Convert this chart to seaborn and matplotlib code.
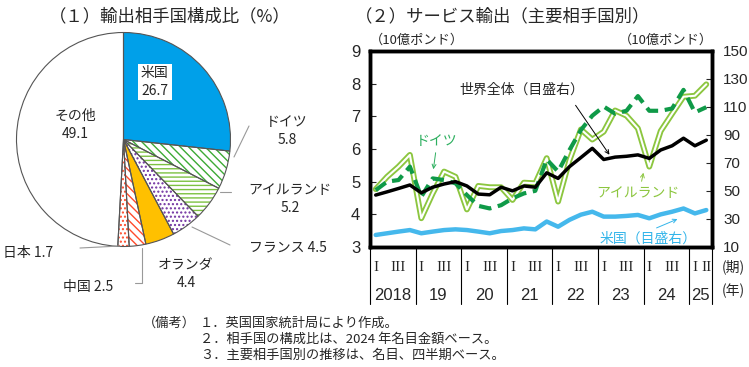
import matplotlib
matplotlib.use('Agg')
import pandas as pd
import matplotlib.pyplot as plt
import seaborn as sns
from matplotlib.lines import Line2D
from matplotlib.patches import FancyArrowPatch

# (1) export partner shares, 2024 (%)
pie_labels = ['米国', 'ドイツ', 'アイルランド', 'フランス', 'オランダ', '中国', '日本', 'その他']
pie_values = [26.7, 5.8, 5.2, 4.5, 4.4, 2.5, 1.7, 49.1]

# (2) quarterly service exports, 2018 Q1 - 2025 Q2
quarters = list(range(30))
germany = [4.74, 5.00, 5.05, 5.46, 4.54, 5.10, 5.05, 4.95, 4.59, 4.26,
           4.18, 4.28, 4.49, 4.64, 4.72, 5.68, 5.31, 5.97, 6.58, 7.02,
           7.30, 7.08, 7.17, 7.62, 7.17, 7.17, 7.24, 7.81, 7.12, 7.28]
ireland = [4.77, 5.15, 5.46, 5.82, 3.88, 4.64, 5.31, 5.15, 4.15, 4.87,
           4.83, 4.83, 4.44, 4.97, 4.95, 5.72, 4.39, 5.66, 6.60, 6.29,
           6.53, 7.18, 7.02, 6.63, 5.46, 6.55, 7.08, 7.60, 7.63, 7.98]
world = [47.1, 49.4, 51.8, 54.3, 48.7, 52.7, 55.0, 56.7, 53.6, 47.8,
         47.3, 52.7, 50.1, 53.6, 52.7, 63.0, 59.0, 67.4, 73.9, 80.5,
         72.5, 74.2, 74.8, 75.8, 73.3, 79.3, 82.3, 87.7, 82.3, 86.3]
usa = [18.6, 19.8, 21.0, 22.1, 19.8, 21.0, 22.1, 22.6, 22.1, 21.0,
       19.8, 21.4, 22.1, 23.3, 22.6, 28.2, 24.5, 29.4, 33.1, 35.2,
       31.7, 31.7, 32.2, 32.9, 30.5, 33.3, 35.2, 37.5, 34.0, 36.4]
years = ['2018', '19', '20', '21', '22', '23', '24', '25']

sns.set_theme(style='white')
plt.rcParams['font.family'] = ['Noto Sans CJK JP', 'DejaVu Sans']
plt.rcParams['hatch.linewidth'] = 1.0

W, H = 749, 367
fig = plt.figure(figsize=(W / 100, H / 100), dpi=100)
fig.patch.set_facecolor('white')


def fp(x, y):
    # pixel position -> figure fraction
    return x / W, 1 - y / H


narrow = ['Liberation Sans Narrow', 'Liberation Sans', 'DejaVu Sans']

# ---------------- pie ----------------
axp = fig.add_axes([16.5 / W, 1 - 246.5 / H, 214 / W, 214 / H])
face = ['#00A0E9', 'white', 'white', 'white', '#FFC000', 'white', 'white', 'white']
hatch = [None, '\\\\\\\\', '----', '....', None, '\\\\\\\\', '....', None]
hcol = ['#00A0E9', '#3DAA35', '#7DC242', '#7030A0', '#FFC000', '#FF4B2B', '#FF4B2B', 'white']
wedges, _ = axp.pie(pie_values, startangle=90, counterclock=False, colors=face,
                    wedgeprops=dict(linewidth=0))
for w, h, c in zip(wedges, hatch, hcol):
    w.set_edgecolor(c)
    if h:
        w.set_hatch(h)
axp.pie(pie_values, startangle=90, counterclock=False,
        wedgeprops=dict(facecolor='none', edgecolor='#555555', linewidth=0.8))
axp.set_xlim(-1, 1)
axp.set_ylim(-1, 1)
axp.set_aspect('equal')
axp.axis('off')

fig.text(*fp(170, 16), '（１）輸出相手国構成比（%）', ha='center', va='center', fontsize=12.5)
fig.text(*fp(141, 82), '米国\n26.7', ha='left', va='center', fontsize=10, linespacing=1.3,
         bbox=dict(facecolor='white', edgecolor='none', pad=2))
fig.text(*fp(75, 125), 'その他\n49.1', ha='center', va='center', fontsize=10, linespacing=1.3)
fig.text(*fp(287, 131), 'ドイツ\n5.8', ha='center', va='center', fontsize=10, linespacing=1.4)
fig.text(*fp(290, 199), 'アイルランド\n5.2', ha='center', va='center', fontsize=10, linespacing=1.4)
fig.text(*fp(288, 247), 'フランス 4.5', ha='center', va='center', fontsize=10)
fig.text(*fp(186, 274), 'オランダ\n4.4', ha='center', va='center', fontsize=10, linespacing=1.4)
fig.text(*fp(88, 287), '中国 2.5', ha='center', va='center', fontsize=10)
fig.text(*fp(28, 253), '日本 1.7', ha='center', va='center', fontsize=10)

leaders = [[(234, 157), (249, 126)],
           [(220, 192), (231, 192)],
           [(192, 227), (230, 245)],
           [(142, 248), (142, 283), (135, 283)],
           [(80, 248), (120, 246)]]
for pts in leaders:
    xs = [p[0] / W for p in pts]
    ys = [1 - p[1] / H for p in pts]
    fig.add_artist(Line2D(xs, ys, color='#999999', lw=0.8))

# ---------------- line chart ----------------
df = pd.DataFrame({'q': quarters, 'ドイツ': germany, 'アイルランド': ireland,
                   '世界全体': world, '米国': usa})

ax = fig.add_axes([370 / W, 1 - 247 / H, 342 / W, 196 / H])
sns.lineplot(data=df, x='q', y='アイルランド', ax=ax, color='#8CC63F', lw=4.2)
sns.lineplot(data=df, x='q', y='アイルランド', ax=ax, color='white', lw=1.5)
sns.lineplot(data=df, x='q', y='ドイツ', ax=ax, color='#0F9A48', lw=3, linestyle=(0, (3, 1.6)))
ax.set_xlim(-0.5, 29.5)
ax.set_ylim(3, 9)
ax.set_yticks(range(3, 10))
ax.set_xticks([])
ax.set_xlabel('')
ax.set_ylabel('')
ax.tick_params(axis='y', direction='in', length=4, width=0.8, pad=7, labelsize=12, left=True)

ax2 = ax.twinx()
sns.lineplot(data=df, x='q', y='米国', ax=ax2, color='#45B8EC', lw=3.2)
sns.lineplot(data=df, x='q', y='世界全体', ax=ax2, color='black', lw=2.5)
ax2.set_ylim(10, 150)
ax2.set_yticks(range(10, 151, 20))
ax2.set_xlim(-0.5, 29.5)
ax2.set_xlabel('')
ax2.set_ylabel('')
ax2.tick_params(axis='y', direction='in', length=4, width=0.8, pad=8, labelsize=11, right=True)

for a in (ax, ax2):
    for sp in a.spines.values():
        sp.set_linewidth(2.5)
        sp.set_color('black')
    for lab in a.get_yticklabels():
        lab.set_fontfamily(narrow)

# x axis: quarters and years
tr = ax.get_xaxis_transform()
bounds = [-0.5] + [3.5 + 4 * k for k in range(7)] + [29.5]
for b in bounds:
    ax.plot([b, b], [0, -0.29], transform=tr, color='black', lw=0.8, clip_on=False)
for k, y in enumerate(years):
    if y == '25':
        qlabs = [(28, 'I'), (29, 'II')]
        ypos = 28.5
    else:
        qlabs = [(4 * k, 'I'), (4 * k + 2, 'III')]
        ypos = 4 * k + 1.5
    for xq, t in qlabs:
        ax.text(xq, -0.105, t, transform=tr, ha='center', va='center',
                fontfamily='Liberation Serif', fontsize=11)
    ax.text(ypos, -0.245, y, transform=tr, ha='center', va='center',
            fontfamily=narrow, fontsize=12)
fig.text(*fp(733, 267), '(期)', ha='center', va='center', fontsize=10)
fig.text(*fp(733, 291), '(年)', ha='center', va='center', fontsize=10)

fig.text(*fp(355, 16), '（２）サービス輸出（主要相手国別）', ha='left', va='center', fontsize=12.5)
fig.text(*fp(370, 40), '（10億ポンド）', ha='left', va='center', fontsize=9.5)
fig.text(*fp(713, 40), '（10億ポンド）', ha='right', va='center', fontsize=9.5)

fig.text(*fp(522, 90), '世界全体（目盛右）', ha='center', va='center', fontsize=10)
fig.text(*fp(437, 141), 'ドイツ', ha='center', va='center', fontsize=10, color='#2DAF5F')
fig.text(*fp(638, 193), 'アイルランド', ha='center', va='center', fontsize=10, color='#8CC63F')
fig.text(*fp(648, 239), '米国（目盛右）', ha='center', va='center', fontsize=10, color='#33B5EA')

arrows = [((574, 103), (611, 157), 'black'),
          ((436, 150), (433, 172), '#2DAF5F'),
          ((641, 184), (644, 170), '#8CC63F'),
          ((654, 229), (680, 218), '#33B5EA')]
for start, end, c in arrows:
    fig.add_artist(FancyArrowPatch(fp(*start), fp(*end), transform=fig.transFigure,
                                   arrowstyle='->', mutation_scale=7, color=c, lw=0.7))

# notes
fig.text(*fp(143, 323), '（備考）', ha='left', va='center', fontsize=9.5)
notes = ['１．英国国家統計局により作成。',
         '２．相手国の構成比は、2024 年名目金額ベース。',
         '３．主要相手国別の推移は、名目、四半期ベース。']
for n, t in enumerate(notes):
    fig.text(*fp(200, 323 + 16 * n), t, ha='left', va='center', fontsize=9.5)

fig.savefig('out.png', dpi=100)
